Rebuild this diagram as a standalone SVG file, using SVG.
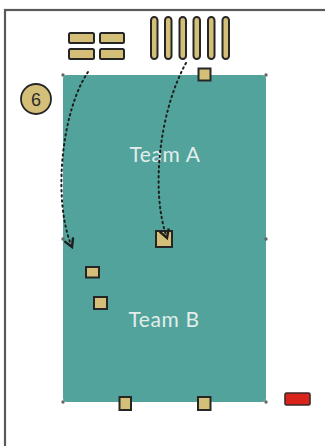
<svg xmlns="http://www.w3.org/2000/svg" width="325" height="446" viewBox="0 0 325 446">
  <defs>
    <style>
      .frame { fill: none; stroke: #5a5a5a; stroke-width: 2.2; }
      .field { fill: #52a39b; }
      .handle { fill: #666; }
      .token { fill: #d4bf78; stroke: #262626; stroke-width: 2; }
      .flag { fill: #d9231b; stroke: #3a2a2a; stroke-width: 1.6; }
      .label { font-family: Lato, "Open Sans", "Liberation Sans", sans-serif; font-size: 21px; letter-spacing: 0.6px; fill: #e3eeeb; text-anchor: middle; }
      .num { font-family: "Liberation Sans", Arial, sans-serif; font-size: 18px; fill: #2b2b2b; text-anchor: middle; }
      .path { fill: none; stroke: #1e1e1e; stroke-width: 2; stroke-dasharray: 1.5 3.6; stroke-linecap: round; }
    </style>
    <marker id="arrow" viewBox="0 0 10 10" refX="8" refY="5" markerWidth="6" markerHeight="6" orient="auto">
      <path d="M1 1 L8 5 L1 9" fill="none" stroke="#1e1e1e" stroke-width="2"/>
    </marker>
  </defs>

  <!-- outer frame (open to the right and bottom) -->
  <rect class="frame" x="5" y="10" width="400" height="500"/>

  <!-- playing field -->
  <g id="field">
    <rect class="field" x="63" y="75" width="203" height="327" rx="4"/>
    <circle class="handle" cx="63" cy="75" r="1.7"/>
    <circle class="handle" cx="266" cy="75" r="1.7"/>
    <circle class="handle" cx="63" cy="239" r="1.7"/>
    <circle class="handle" cx="266" cy="239" r="1.7"/>
    <circle class="handle" cx="63" cy="402" r="1.7"/>
    <circle class="handle" cx="266" cy="402" r="1.7"/>
    <text class="label" x="165" y="162">Team A</text>
    <text class="label" x="164" y="327">Team B</text>
  </g>

  <!-- number badge -->
  <g id="badge">
    <circle cx="36" cy="99" r="15" fill="#d4bf78" stroke="#262626" stroke-width="1.8"/>
    <text class="num" x="36" y="105.5">6</text>
  </g>

  <!-- stack of flat bars -->
  <g id="flat-bars">
    <rect class="token" x="69" y="33" width="25" height="10" rx="1.5"/>
    <rect class="token" x="100" y="33" width="24" height="10" rx="1.5"/>
    <rect class="token" x="69" y="49" width="25" height="10" rx="1.5"/>
    <rect class="token" x="100" y="49" width="24" height="10" rx="1.5"/>
  </g>

  <!-- row of upright bars -->
  <g id="upright-bars">
    <rect class="token" x="151" y="17" width="6.5" height="42" rx="3.25"/>
    <rect class="token" x="165" y="17" width="6.5" height="42" rx="3.25"/>
    <rect class="token" x="179.5" y="17" width="6.5" height="42" rx="3.25"/>
    <rect class="token" x="193.5" y="17" width="6.5" height="42" rx="3.25"/>
    <rect class="token" x="208" y="17" width="6.5" height="42" rx="3.25"/>
    <rect class="token" x="222.5" y="17" width="6.5" height="42" rx="3.25"/>
  </g>

  <!-- markers -->
  <g id="marker-top"><rect class="token" x="198.5" y="68.5" width="12" height="12"/></g>
  <g id="marker-center"><rect class="token" x="156" y="231" width="16" height="16"/></g>
  <g id="marker-b1"><rect class="token" x="86" y="267" width="13" height="10.5"/></g>
  <g id="marker-b2"><rect class="token" x="94" y="297" width="13" height="12"/></g>
  <g id="marker-bottom-1"><rect class="token" x="119.5" y="397" width="11.5" height="13"/></g>
  <g id="marker-bottom-2"><rect class="token" x="198" y="397" width="12.5" height="13"/></g>
  <g id="flag"><rect class="flag" x="285" y="393" width="25" height="12" rx="1.5"/></g>

  <!-- movement paths -->
  <g id="connectors">
    <path class="path" d="M88 72 C62 110 52 200 72 247" marker-end="url(#arrow)"/>
    <path class="path" d="M186 63 C160 110 150 190 167 238" marker-end="url(#arrow)"/>
  </g>
</svg>
